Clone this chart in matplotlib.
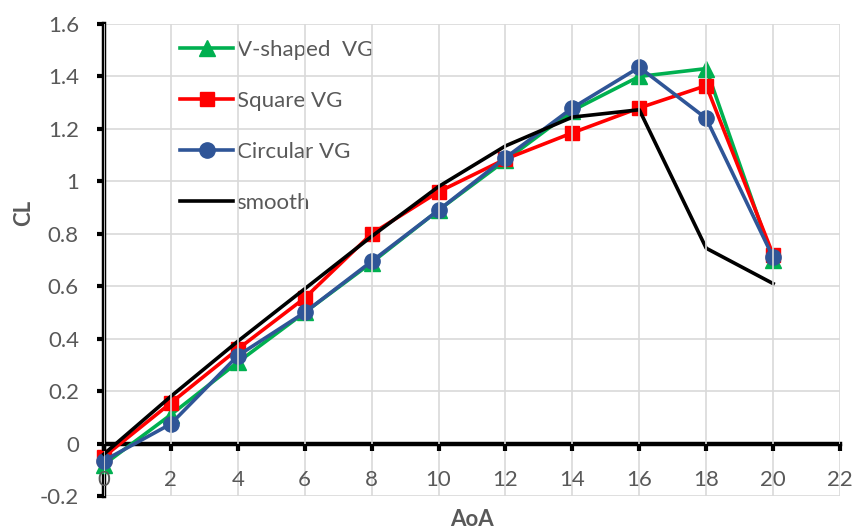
import matplotlib.pyplot as plt

aoa = [0, 2, 4, 6, 8, 10, 12, 14, 16, 18, 20]
cl_vshaped = [-0.08, 0.11, 0.31, 0.50, 0.69, 0.89, 1.08, 1.27, 1.40, 1.43, 0.70]
cl_square = [-0.05, 0.155, 0.36, 0.555, 0.80, 0.96, 1.085, 1.185, 1.28, 1.365, 0.72]
cl_circular = [-0.065, 0.075, 0.335, 0.50, 0.695, 0.89, 1.09, 1.28, 1.435, 1.24, 0.71]
cl_smooth = [-0.04, 0.18, 0.39, 0.59, 0.79, 0.98, 1.135, 1.245, 1.273, 0.745, 0.61]

plt.rcParams['font.family'] = ['Lato', 'DejaVu Sans']
text_col = '#595959'

fig = plt.figure(figsize=(8.55, 5.29), dpi=100)
ax = fig.add_axes([0.1216, 0.0624, 0.8609, 0.8922])

ax.plot(aoa, cl_vshaped, color='#00b050', lw=2.6, marker='^', ms=11, label='V-shaped  VG', zorder=5, clip_on=False)
ax.plot(aoa, cl_square, color='#ff0000', lw=2.6, marker='s', ms=10.5, label='Square VG', zorder=6, clip_on=False)
ax.plot(aoa, cl_circular, color='#2f5597', lw=2.6, marker='o', ms=11, label='Circular VG', zorder=7, clip_on=False)
ax.plot(aoa, cl_smooth, color='black', lw=2.6, label='smooth', zorder=8, clip_on=False)

ax.set_xlim(0, 22)
ax.set_ylim(-0.2, 1.6)
ax.set_xticks(range(0, 23, 2))
ax.set_yticks([-0.2, 0, 0.2, 0.4, 0.6, 0.8, 1, 1.2, 1.4, 1.6])
ax.set_yticklabels(['-0.2', '0', '0.2', '0.4', '0.6', '0.8', '1', '1.2', '1.4', '1.6'])

ax.grid(True, color='#d9d9d9', lw=1.2, zorder=0)
ax.set_axisbelow(True)
for s in ['top', 'right']:
    ax.spines[s].set_visible(False)
ax.spines['left'].set_linewidth(3.2)
ax.spines['bottom'].set_linewidth(3.2)
ax.spines['bottom'].set_position(('data', 0))
ax.spines['left'].set_zorder(4)
ax.spines['bottom'].set_zorder(4)

ax.tick_params(axis='both', direction='out', length=5, width=3, colors='black',
               labelcolor=text_col, labelsize=16)
ax.tick_params(axis='x', pad=14)
ax.tick_params(axis='y', pad=13)
# keep the tick labels above the markers, like the original
for lbl in ax.get_xticklabels() + ax.get_yticklabels():
    lbl.set_zorder(10)
ax.xaxis.set_zorder(9)

ax.set_xlabel('AoA', fontsize=16, fontweight='bold', color=text_col)
ax.xaxis.set_label_coords(0.5, -0.028)
ax.set_ylabel('CL', fontsize=16, fontweight='bold', color=text_col)
ax.yaxis.set_label_coords(-0.095, 0.6)

leg = ax.legend(loc='upper left', bbox_to_anchor=(0.082, 1.0), frameon=False, fontsize=16,
                labelspacing=1.4, handlelength=2.4, handletextpad=0.15, borderaxespad=0.3)
for t in leg.get_texts():
    t.set_color(text_col)

plt.savefig('out.png')
plt.close()
